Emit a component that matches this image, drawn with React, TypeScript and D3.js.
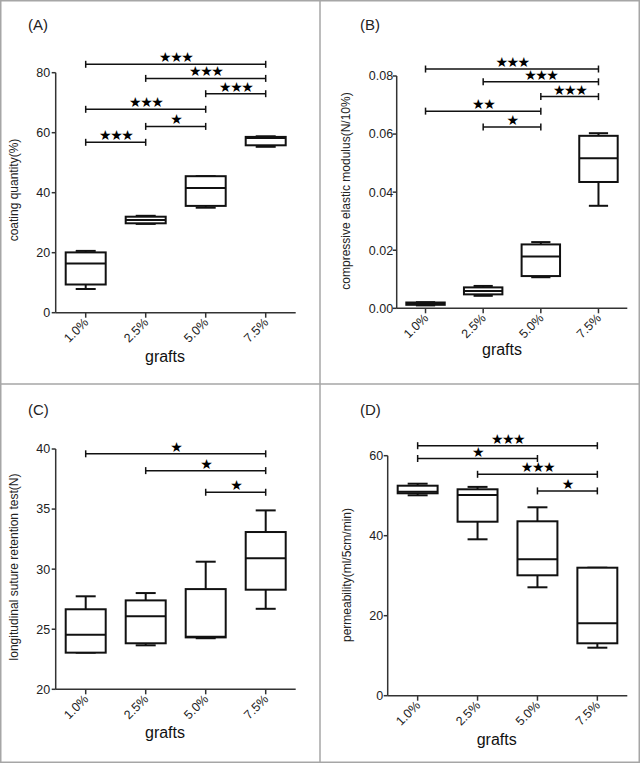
import React from 'react';
import * as d3 from 'd3';

const categories = ['1.0%', '2.5%', '5.0%', '7.5%'];

// [min, q1, median, q3, max]
const coatingQuantity = [
  [7.9, 9.4, 16.4, 20.1, 20.6],
  [29.6, 29.8, 30.9, 32.0, 32.3],
  [35.0, 35.6, 41.6, 45.5, 45.5],
  [55.3, 55.8, 58.2, 58.6, 58.8],
];
const compressiveModulus = [
  [0.001, 0.0012, 0.0015, 0.002, 0.0021],
  [0.0043, 0.0048, 0.006, 0.0072, 0.0077],
  [0.0107, 0.0111, 0.0178, 0.022, 0.0228],
  [0.0353, 0.0435, 0.0517, 0.0594, 0.0603],
];
const sutureRetention = [
  [23.05, 23.05, 24.54, 26.66, 27.74],
  [23.66, 23.83, 26.07, 27.4, 28.01],
  [24.25, 24.32, 24.38, 28.34, 30.62],
  [26.7, 28.29, 30.9, 33.09, 34.89],
];
const permeability = [
  [50.1, 50.6, 51.0, 52.5, 53.0],
  [39.1, 43.5, 50.2, 51.6, 52.2],
  [27.1, 30.1, 34.1, 43.6, 47.1],
  [12.0, 13.1, 18.1, 32.0, 32.0],
];

// [from index, to index, height, stars]
const sigA: [number, number, number, string][] = [
  [0, 3, 82.8, '★★★'],
  [1, 3, 78.1, '★★★'],
  [2, 3, 73.0, '★★★'],
  [0, 2, 67.8, '★★★'],
  [1, 2, 62.1, '★'],
  [0, 1, 56.8, '★★★'],
];
const sigB: [number, number, number, string][] = [
  [0, 3, 0.0824, '★★★'],
  [1, 3, 0.078, '★★★'],
  [2, 3, 0.0729, '★★★'],
  [0, 2, 0.0679, '★★'],
  [1, 2, 0.0624, '★'],
];
const sigC: [number, number, number, string][] = [
  [0, 3, 39.6, '★'],
  [1, 3, 38.2, '★'],
  [2, 3, 36.4, '★'],
];
const sigD: [number, number, number, string][] = [
  [0, 3, 62.5, '★★★'],
  [0, 2, 59.3, '★'],
  [1, 3, 55.35, '★★★'],
  [2, 3, 51.2, '★'],
];

const ticksA = [0, 20, 40, 60, 80];
const ticksB = [0, 0.02, 0.04, 0.06, 0.08];
const ticksC = [20, 25, 30, 35, 40];
const ticksD = [0, 20, 40, 60];

const FONT = '"Liberation Sans", Arial, Helvetica, sans-serif';

type PanelProps = {
  data: number[][];
  sig: [number, number, number, string][];
  ticks: number[];
  fmt: (v: number) => string;
  xRange: [number, number];
  yRange: [number, number];
  yLabel: string;
  yLabelX: number;
  yLabelY: number;
  panelLabel: string;
  panelLabelX: number;
  panelLabelY: number;
  graftsX: number;
  graftsY: number;
  tickGap: number;
};

function Panel(p: PanelProps) {
  const y = d3
    .scaleLinear()
    .domain([p.ticks[0], p.ticks[p.ticks.length - 1]])
    .range(p.yRange);
  const x = d3.scaleBand<string>().domain(categories).range(p.xRange).padding(0);
  const cx = (i: number) => (x(categories[i]) as number) + x.bandwidth() / 2;
  const bw = (x.bandwidth() * 2) / 3;
  const cw = bw / 2;
  const y0 = y(p.ticks[0]);
  const yTop = y(p.ticks[p.ticks.length - 1]);
  const ax = p.xRange[0];
  return (
    <g>
      <text x={p.panelLabelX} y={p.panelLabelY} fontSize={15} fill="#222" fontFamily={FONT}>
        {p.panelLabel}
      </text>
      {/* y axis */}
      <line x1={ax} x2={ax} y1={yTop} y2={y0} stroke="#333" strokeWidth={1.5} />
      {p.ticks.map((t) => (
        <g key={t}>
          <line x1={ax - 4} x2={ax} y1={y(t)} y2={y(t)} stroke="#333" strokeWidth={1.5} />
          <text
            x={ax - p.tickGap}
            y={y(t)}
            dy="0.35em"
            textAnchor="end"
            fontSize={12.5}
            fill="#222"
            fontFamily={FONT}
          >
            {p.fmt(t)}
          </text>
        </g>
      ))}
      {/* x axis */}
      <line x1={ax} x2={p.xRange[1]} y1={y0} y2={y0} stroke="#333" strokeWidth={1.5} />
      {categories.map((c, i) => (
        <g key={c}>
          <line x1={cx(i)} x2={cx(i)} y1={y0} y2={y0 + 5} stroke="#333" strokeWidth={1.5} />
          <text
            transform={`translate(${cx(i) + 3.5},${y0 + 10.5}) rotate(-45)`}
            textAnchor="end"
            fontSize={12.5}
            fill="#222"
            fontFamily={FONT}
          >
            {c}
          </text>
        </g>
      ))}
      <text
        x={p.graftsX}
        y={p.graftsY}
        textAnchor="middle"
        fontSize={16}
        fill="#111"
        fontFamily={FONT}
      >
        grafts
      </text>
      <text
        transform={`translate(${p.yLabelX},${p.yLabelY}) rotate(-90)`}
        textAnchor="middle"
        fontSize={12}
        fill="#222"
        fontFamily={FONT}
      >
        {p.yLabel}
      </text>
      {/* boxes */}
      {p.data.map((d, i) => {
        const [mn, q1, md, q3, mx] = d;
        const c = cx(i);
        return (
          <g key={i} stroke="#111" strokeWidth={2} fill="none">
            <line x1={c} x2={c} y1={y(mx)} y2={y(q3)} />
            <line x1={c} x2={c} y1={y(q1)} y2={y(mn)} />
            <line x1={c - cw / 2} x2={c + cw / 2} y1={y(mx)} y2={y(mx)} />
            <line x1={c - cw / 2} x2={c + cw / 2} y1={y(mn)} y2={y(mn)} />
            <rect x={c - bw / 2} y={y(q3)} width={bw} height={Math.max(0.5, y(q1) - y(q3))} fill="#fff" />
            <line x1={c - bw / 2} x2={c + bw / 2} y1={y(md)} y2={y(md)} />
          </g>
        );
      })}
      {/* significance */}
      {p.sig.map(([a, b, v, s], k) => {
        const yy = y(v);
        return (
          <g key={k}>
            <g stroke="#111" strokeWidth={1.5}>
              <line x1={cx(a)} x2={cx(b)} y1={yy} y2={yy} />
              <line x1={cx(a)} x2={cx(a)} y1={yy - 3.5} y2={yy + 3.5} />
              <line x1={cx(b)} x2={cx(b)} y1={yy - 3.5} y2={yy + 3.5} />
            </g>
            <text
              x={(cx(a) + cx(b)) / 2}
              y={yy - 2}
              textAnchor="middle"
              fontSize={14}
              letterSpacing={-1.5}
              fill="#000"
              fontFamily='"DejaVu Sans", sans-serif'
            >
              {s}
            </text>
          </g>
        );
      })}
    </g>
  );
}

export default function App() {
  const W = 640;
  const H = 763;
  return (
    <svg
      width={W}
      height={H}
      style={{ position: 'fixed', left: 0, top: 0, background: '#fff' }}
    >
      <rect x={0} y={0} width={W} height={H} fill="#fff" />
      <Panel
        data={coatingQuantity}
        sig={sigA}
        ticks={ticksA}
        fmt={(v) => d3.format('d')(v)}
        xRange={[55.7, 295.7]}
        yRange={[312.7, 72.7]}
        yLabel="coating quantity(%)"
        yLabelX={18}
        yLabelY={190}
        panelLabel="(A)"
        panelLabelX={28}
        panelLabelY={30}
        graftsX={165}
        graftsY={362}
        tickGap={5.5}
      />
      <Panel
        data={compressiveModulus}
        sig={sigB}
        ticks={ticksB}
        fmt={(v) => d3.format('.2f')(v)}
        xRange={[396.7, 627.3]}
        yRange={[308.3, 76]}
        yLabel="compressive elastic modulus(N/10%)"
        yLabelX={350}
        yLabelY={191}
        panelLabel="(B)"
        panelLabelX={360}
        panelLabelY={30}
        graftsX={502}
        graftsY={355}
        tickGap={3.5}
      />
      <Panel
        data={sutureRetention}
        sig={sigC}
        ticks={ticksC}
        fmt={(v) => d3.format('d')(v)}
        xRange={[55.7, 295.7]}
        yRange={[689.3, 449]}
        yLabel="longitudinal suture retention test(N)"
        yLabelX={18}
        yLabelY={567}
        panelLabel="(C)"
        panelLabelX={28}
        panelLabelY={415}
        graftsX={165}
        graftsY={738}
        tickGap={5.5}
      />
      <Panel
        data={permeability}
        sig={sigD}
        ticks={ticksD}
        fmt={(v) => d3.format('d')(v)}
        xRange={[387.7, 627.3]}
        yRange={[695.7, 455.7]}
        yLabel="permeability(ml/5cm/min)"
        yLabelX={351}
        yLabelY={575}
        panelLabel="(D)"
        panelLabelX={360}
        panelLabelY={415}
        graftsX={496.7}
        graftsY={745}
        tickGap={4.5}
      />
      {/* frame */}
      <g stroke="#a6a6a6" strokeWidth={1.5} fill="none">
        <rect x={0.75} y={0.75} width={W - 1.5} height={H - 1.5} />
        <line x1={320} x2={320} y1={0} y2={H} />
        <line x1={0} x2={W} y1={384} y2={384} />
      </g>
    </svg>
  );
}
